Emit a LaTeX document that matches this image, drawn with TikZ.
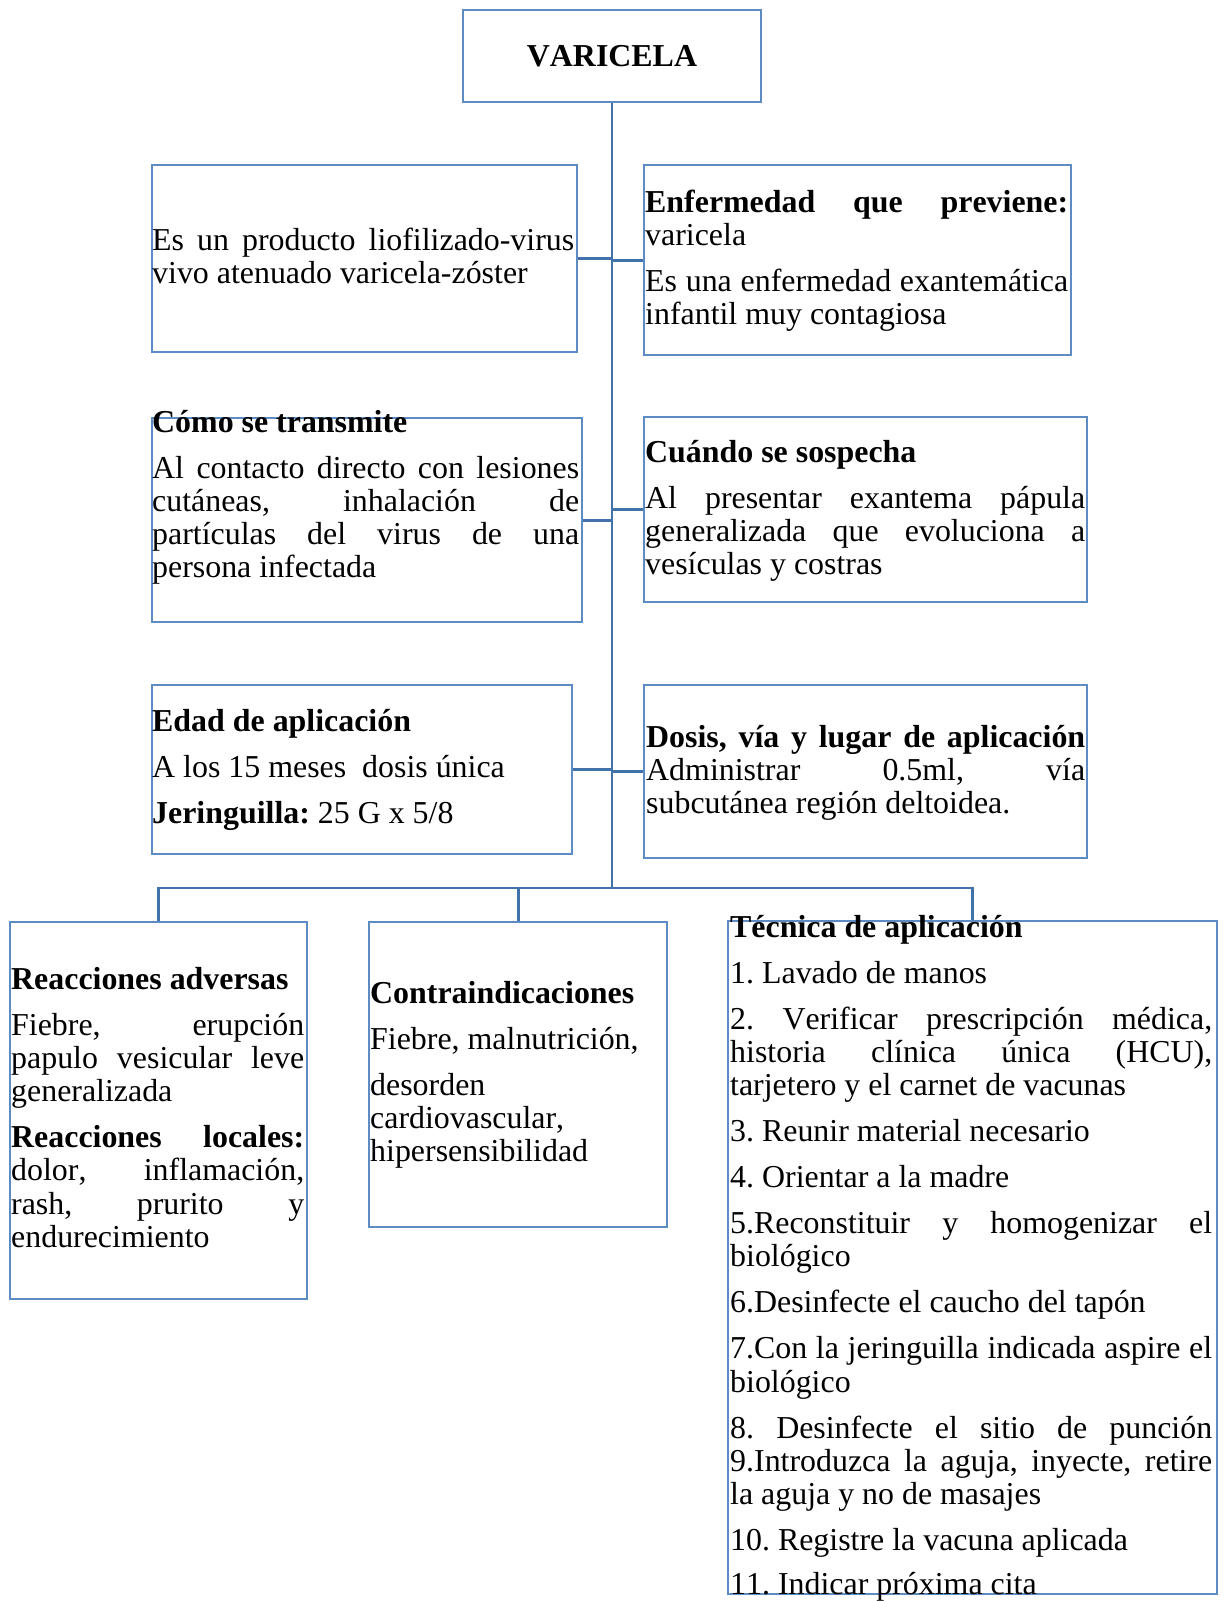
\documentclass[tikz,border=0pt]{standalone}
\usepackage{fontspec}
\setmainfont{Liberation Serif}[Ligatures={TeX,NoCommon},Kerning=Off]
\definecolor{boxc}{RGB}{93,140,196}
\definecolor{linec}{RGB}{66,114,170}
\newcommand\jline[1]{\makebox[\linewidth][s]{#1}\par}
\newcommand\pline[1]{\mbox{#1}\par}
\newcommand\pgap{\vspace{12.7pt}}
\frenchspacing
\begin{document}
\begin{tikzpicture}[x=1pt,y=-1pt,
  box/.style={draw=boxc,line width=2.4pt,anchor=north west,inner sep=0pt},
  txt/.style={anchor=base west,inner sep=0pt,font=\fontsize{31.9pt}{33.3pt}\selectfont},
  conn/.style={draw=linec,line width=2.8pt}]
\useasboundingbox[fill=white] (0,0) rectangle (1224,1601);
\lineskiplimit=-100pt
% boxes
\node[box,anchor=center,minimum width=298pt,minimum height=92pt,
      font=\fontsize{31.9pt}{33.3pt}\selectfont] (top) at (612,56) {\textbf{VARICELA}};
\node[box,minimum width=425pt,minimum height=187pt] (b1) at (151,164) {};
\node[box,minimum width=427pt,minimum height=190pt] (b2) at (643,164) {};
\node[box,minimum width=430pt,minimum height=204pt] (b3) at (151,417) {};
\node[box,minimum width=443pt,minimum height=185pt] (b4) at (643,416) {};
\node[box,minimum width=420pt,minimum height=169pt] (b5) at (151,684) {};
\node[box,minimum width=443pt,minimum height=173pt] (b6) at (643,684) {};
\node[box,minimum width=297pt,minimum height=377pt] (b7) at (9,921) {};
\node[box,minimum width=298pt,minimum height=305pt] (b8) at (368,921) {};
\node[box,minimum width=489pt,minimum height=673pt] (b9) at (727,920) {};
% connectors
\coordinate (bar) at (612,888);
\draw[conn] (top.south) -- (bar);
\draw[conn] (b1.east) -- (b1.east -| bar);
\draw[conn] (b2.west) -- (b2.west -| bar);
\draw[conn] (b3.east) -- (b3.east -| bar);
\draw[conn] (b4.west) -- (b4.west -| bar);
\draw[conn] (b5.east) -- (b5.east -| bar);
\draw[conn] (b6.west) -- (b6.west -| bar);
\draw[conn] (b7.north) |- (bar) -| (b9.north);
\draw[conn] (b8.north) -- (b8.north |- bar);
% texts
\node[txt] (t1) at (152,250) {\parbox[t]{422pt}{%
\jline{Es un producto liofilizado-virus}
\pline{vivo atenuado varicela-zóster}}};
\node[txt] (t2) at (645,212) {\parbox[t]{423pt}{%
\jline{\textbf{Enfermedad que previene:}}
\pline{varicela}\pgap
\jline{Es una enfermedad exantemática}
\pline{infantil muy contagiosa}}};
\node[txt] (t3) at (152,432) {\parbox[t]{427pt}{%
\pline{\textbf{Cómo se transmite}}\pgap
\jline{Al contacto directo con lesiones}
\jline{cutáneas, inhalación de}
\jline{partículas del virus de una}
\pline{persona infectada}}};
\node[txt] (t4) at (645,462) {\parbox[t]{440pt}{%
\pline{\textbf{Cuándo se sospecha}}\pgap
\jline{Al presentar exantema pápula}
\jline{generalizada que evoluciona a}
\pline{vesículas y costras}}};
\node[txt] (t5) at (152,731) {\parbox[t]{415pt}{%
\pline{\textbf{Edad de aplicación}}\pgap
\pline{A los 15 meses~\ dosis única}\pgap
\pline{\textbf{Jeringuilla:} 25 G x 5/8}}};
\node[txt] (t6) at (646,747) {\parbox[t]{439pt}{%
\jline{\textbf{Dosis, vía y lugar de aplicación}}
\jline{Administrar 0.5ml, vía}
\pline{subcutánea región deltoidea.}}};
\node[txt] (t7) at (11,989) {\parbox[t]{293pt}{%
\pline{\textbf{Reacciones adversas}}\pgap
\jline{Fiebre, erupción}
\jline{papulo vesicular leve}
\pline{generalizada}\pgap
\jline{\textbf{Reacciones locales:}}
\jline{dolor, inflamación,}
\jline{rash, prurito y}
\pline{endurecimiento}}};
\node[txt] (t8) at (370,1003) {\parbox[t]{290pt}{%
\pline{\textbf{Contraindicaciones}}\pgap
\pline{Fiebre, malnutrición,}\pgap
\pline{desorden}
\pline{cardiovascular,}
\pline{hipersensibilidad}}};
\node[txt] (t9) at (730,937) {\parbox[t]{482pt}{%
\pline{\textbf{Técnica de aplicación}}\pgap
\pline{1. Lavado de manos}\pgap
\jline{2. Verificar prescripción médica,}
\jline{historia clínica única (HCU),}
\pline{tarjetero y el carnet de vacunas}\pgap
\pline{3. Reunir material necesario}\pgap
\pline{4. Orientar a la madre}\pgap
\jline{5.Reconstituir y homogenizar el}
\pline{biológico}\pgap
\pline{6.Desinfecte el caucho del tapón}\pgap
\jline{7.Con la jeringuilla indicada aspire el}
\pline{biológico}\pgap
\jline{8. Desinfecte el sitio de punción}
\jline{9.Introduzca la aguja, inyecte, retire}
\pline{la aguja y no de masajes}\pgap
\pline{10. Registre la vacuna aplicada}\vspace{10pt}
\pline{11. Indicar próxima cita}}};
\end{tikzpicture}
\end{document}
